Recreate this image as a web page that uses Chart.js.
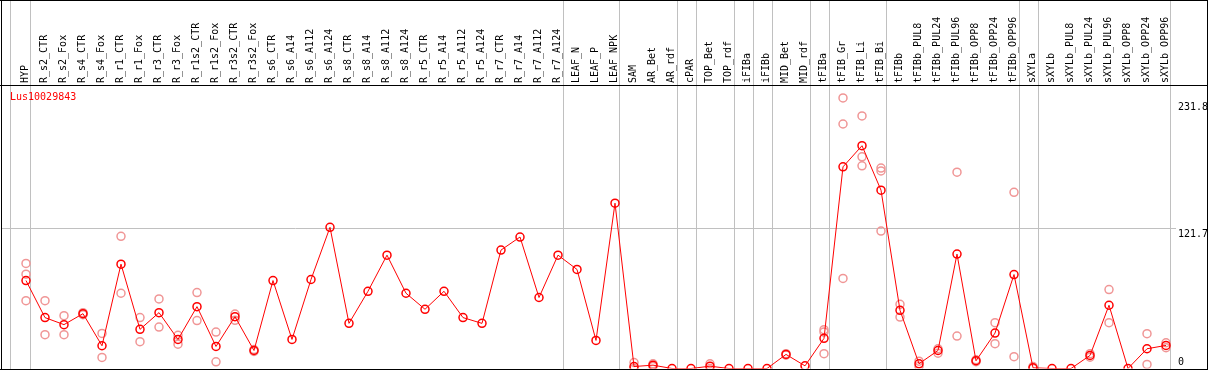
<!DOCTYPE html>
<html>
<head>
<meta charset="utf-8">
<script src="https://cdn.jsdelivr.net/npm/chart.js@4.4.1/dist/chart.umd.min.js"></script>
<style>
  html, body { margin: 0; padding: 0; background: #fff; }
  canvas { display: block; }
</style>
</head>
<body>
<canvas id="c" width="1209" height="370"></canvas>
<script>
const geneId = 'Lus10029843';

const categories = [
  'HYP','R_s2_CTR','R_s2_Fox','R_s4_CTR','R_s4_Fox','R_r1_CTR','R_r1_Fox','R_r3_CTR','R_r3_Fox',
  'R_r1s2_CTR','R_r1s2_Fox','R_r3s2_CTR','R_r3s2_Fox','R_s6_CTR','R_s6_A14','R_s6_A112','R_s6_A124',
  'R_s8_CTR','R_s8_A14','R_s8_A112','R_s8_A124','R_r5_CTR','R_r5_A14','R_r5_A112','R_r5_A124',
  'R_r7_CTR','R_r7_A14','R_r7_A112','R_r7_A124','LEAF_N','LEAF_P','LEAF_NPK','SAM','AR_Bet','AR_rdf',
  'cPAR','TOP_Bet','TOP_rdf','iFIBa','iFIBb','MID_Bet','MID_rdf','tFIBa','tFIB_Gr','tFIB_Li','tFIB_Bi',
  'tFIBb','tFIBb_PUL8','tFIBb_PUL24','tFIBb_PUL96','tFIBb_OPP8','tFIBb_OPP24','tFIBb_OPP96',
  'sXYLa','sXYLb','sXYLb_PUL8','sXYLb_PUL24','sXYLb_PUL96','sXYLb_OPP8','sXYLb_OPP24','sXYLb_OPP96'
];

const meanValues = [
  76.2, 44.1, 38.0, 47.5, 19.7, 90.4, 33.9, 48.4, 25.2,
  53.6, 19.1, 44.9, 15.6, 76.2, 25.2, 77.1, 122.3,
  39.1, 66.9, 98.2, 65.2, 51.3, 66.9, 44.1, 39.1,
  102.6, 113.9, 61.5, 98.2, 85.8, 24.3, 143.2, 1.7, 2.9, 0,
  0, 2.0, 0, 0, 0, 12.2, 2.3, 26.1, 174.7, 193.0, 154.5,
  50.4, 4.1, 15.6, 99.1, 6.7, 30.7, 81.4,
  0.6, 0, 0, 11.3, 54.8, 0, 17.1, 20.0
];

const replicateValues = [
  [91.0, 81.7, 58.8], [58.8, 29.3], [45.8, 29.3], [48.4, 46.6], [30.4, 9.6], [114.5, 65.2],
  [44.1, 23.2], [60.3, 35.9], [28.7, 21.1], [65.8, 41.5], [31.6, 5.8], [47.2, 41.7], [16.4, 14.8],
  [], [], [], [], [], [], [], [], [], [], [], [], [], [], [], [], [], [], [],
  [5.2, 0], [4.1, 1.7], [], [], [4.1, 0], [], [], [], [12.8, 11.6], [], [33.6, 31.6, 12.8],
  [234.4, 211.8, 78.0], [218.8, 183.4, 175.6], [173.6, 171.2, 119.1],
  [55.6, 44.6], [6.3, 1.9], [17.1, 13.3], [28.1, 170.1], [7.5, 5.9], [39.7, 21.5], [10.2, 152.6],
  [1.7, 0], [], [], [12.8, 9.8], [68.4, 39.7], [], [30.2, 3.5], [22.3, 18.0]
];

const yTickValues = [0, 121.7, 231.8];
const groupSeparators = [-0.84, 0.22, 28.25, 31.23, 34.25, 35.25, 37.25, 38.25, 39.25, 41.25, 42.25, 45.25, 52.25, 53.25, 60.21];

const FONT = { family: "'DejaVu Sans Mono', monospace", size: 10 };

const mainPoints = meanValues.map((v, i) => ({ x: i, y: v }));
const repPoints = [];
replicateValues.forEach((arr, i) => arr.forEach(v => repPoints.push({ x: i, y: v })));

const decor = {
  id: 'decor',
  beforeDatasetsDraw(chart) {
    const ctx = chart.ctx, xs = chart.scales.x;
    ctx.save();
    ctx.fillStyle = '#c0c0c0';
    groupSeparators.forEach(s => {
      const px = Math.round(xs.getPixelForValue(s));
      ctx.fillRect(px, 0, 1, 369);
    });
    ctx.restore();
  },
  afterDraw(chart) {
    const ctx = chart.ctx;
    ctx.save();
    ctx.fillStyle = '#000';
    ctx.fillRect(0, 0, 1208, 1);
    ctx.fillRect(0, 85, 1208, 1);
    ctx.fillRect(0, 369, 1208, 1);
    ctx.fillRect(1, 0, 1, 370);
    ctx.fillRect(1207, 0, 1, 370);
    ctx.fillStyle = '#ff0000';
    ctx.font = "10px 'DejaVu Sans Mono', monospace";
    ctx.textBaseline = 'middle';
    ctx.textAlign = 'left';
    ctx.fillText(geneId, 10, 97);
    ctx.restore();
  }
};

new Chart(document.getElementById('c'), {
  type: 'line',
  data: {
    datasets: [
      {
        data: mainPoints,
        borderColor: '#ff0000',
        borderWidth: 1,
        tension: 0,
        pointRadius: 4,
        pointBorderWidth: 1.5,
        pointBorderColor: '#ff0000',
        pointBackgroundColor: 'rgba(0,0,0,0)',
        fill: false
      },
      {
        data: repPoints,
        showLine: false,
        pointRadius: 4,
        pointBorderWidth: 1.5,
        pointBorderColor: '#f09696',
        pointBackgroundColor: 'rgba(0,0,0,0)'
      }
    ]
  },
  options: {
    responsive: false,
    animation: false,
    devicePixelRatio: 1,
    layout: { autoPadding: false, padding: { left: 2, right: 0, top: 0, bottom: 1.5 } },
    plugins: { legend: { display: false }, tooltip: { enabled: false }, title: { display: false } },
    scales: {
      x: {
        type: 'linear',
        position: 'top',
        min: -1.263,
        max: 60.526,
        afterBuildTicks: s => { s.ticks = categories.map((_, i) => ({ value: i })); },
        afterFit: s => { s.height = 85; s.paddingLeft = 0; s.paddingRight = 0; },
        ticks: {
          autoSkip: false,
          minRotation: 90,
          maxRotation: 90,
          padding: 2,
          labelOffset: 11.5,
          color: '#000',
          font: FONT,
          callback: v => categories[Math.round(v)]
        },
        grid: { display: false, drawTicks: false },
        border: { display: false }
      },
      y: {
        type: 'linear',
        position: 'right',
        min: 0,
        max: 245.6,
        afterBuildTicks: s => { s.ticks = yTickValues.map(v => ({ value: v })); },
        afterFit: s => { s.width = 33; s.paddingTop = 0; s.paddingBottom = 0; },
        ticks: {
          padding: 2,
          color: '#000',
          font: FONT,
          callback: v => (v === 0 ? ['0', ''] : ['', String(v)])
        },
        grid: {
          drawTicks: false,
          color: c => (c.tick && c.tick.value === 121.7 ? '#c0c0c0' : 'rgba(0,0,0,0)')
        },
        border: { display: false }
      }
    }
  },
  plugins: [decor]
});
</script>
</body>
</html>
